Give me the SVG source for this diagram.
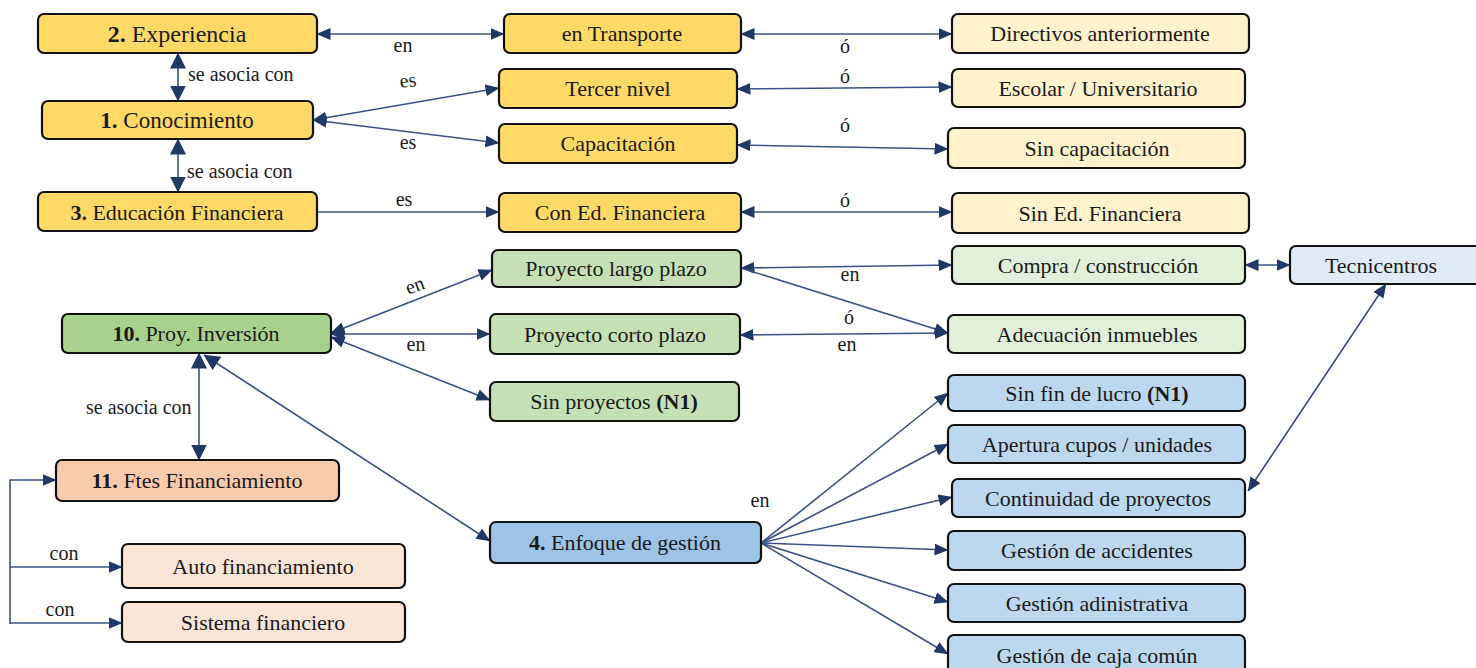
<svg xmlns="http://www.w3.org/2000/svg" width="1476" height="668" viewBox="0 0 1476 668">
  <defs>
    <marker id="arr" viewBox="0 0 14 12" refX="13.5" refY="6" markerWidth="14" markerHeight="12" markerUnits="userSpaceOnUse" orient="auto-start-reverse">
      <path d="M0,0 L14,6 L0,12 Z" fill="#1F3864" stroke="none"/>
    </marker>
    <marker id="arrL" viewBox="0 0 16 16" refX="15.5" refY="8" markerWidth="16" markerHeight="16" markerUnits="userSpaceOnUse" orient="auto-start-reverse">
      <path d="M0,0 L16,8 L0,16 Z" fill="#1F3864" stroke="none"/>
    </marker>
  </defs>

  <!-- connectors -->
  <g id="connectors">
    <g fill="none" stroke="#3A5283" stroke-width="1.6">
      <!-- experiencia / conocimiento / educacion -->
      <line x1="317" y1="34" x2="504" y2="34" marker-start="url(#arr)" marker-end="url(#arr)"/>
      <line x1="741" y1="34" x2="952" y2="34" marker-start="url(#arr)" marker-end="url(#arr)"/>
      <line x1="178" y1="53" x2="178" y2="101" marker-start="url(#arrL)" marker-end="url(#arrL)"/>
      <line x1="178" y1="139" x2="178" y2="192" marker-start="url(#arrL)" marker-end="url(#arrL)"/>
      <line x1="313" y1="120" x2="499" y2="88" marker-start="url(#arr)" marker-end="url(#arr)"/>
      <line x1="313" y1="120" x2="499" y2="143" marker-start="url(#arr)" marker-end="url(#arr)"/>
      <line x1="737" y1="89" x2="952" y2="87" marker-start="url(#arr)" marker-end="url(#arr)"/>
      <line x1="737" y1="145" x2="948" y2="149" marker-start="url(#arr)" marker-end="url(#arr)"/>
      <line x1="317" y1="212" x2="499" y2="212" marker-end="url(#arr)"/>
      <line x1="741" y1="212" x2="952" y2="212" marker-start="url(#arr)" marker-end="url(#arr)"/>

      <!-- proyectos de inversion -->
      <line x1="331" y1="333" x2="492" y2="270" marker-start="url(#arr)" marker-end="url(#arr)"/>
      <line x1="331" y1="334" x2="490" y2="334" marker-start="url(#arr)" marker-end="url(#arr)"/>
      <line x1="331" y1="337" x2="490" y2="400" marker-start="url(#arr)" marker-end="url(#arr)"/>
      <line x1="741" y1="268" x2="952" y2="265" marker-start="url(#arr)" marker-end="url(#arr)"/>
      <line x1="741" y1="268" x2="948" y2="333" marker-end="url(#arr)"/>
      <line x1="740" y1="335" x2="948" y2="333" marker-start="url(#arr)" marker-end="url(#arr)"/>
      <line x1="1245" y1="265" x2="1290" y2="265" marker-start="url(#arr)" marker-end="url(#arr)"/>
      <line x1="1248" y1="491" x2="1386" y2="284" marker-start="url(#arr)" marker-end="url(#arr)"/>

      <!-- inversion / financiamiento / enfoque -->
      <line x1="199" y1="353" x2="199" y2="460" marker-start="url(#arrL)" marker-end="url(#arrL)"/>
      <line x1="204" y1="355" x2="490" y2="541" marker-start="url(#arrL)" marker-end="url(#arr)"/>
      <path d="M10,624 V480 H56" marker-end="url(#arr)"/>
      <line x1="10" y1="567" x2="122" y2="567" marker-end="url(#arr)"/>
      <line x1="10" y1="623" x2="122" y2="623" marker-end="url(#arr)"/>

      <!-- enfoque de gestion fan-out -->
      <line x1="761" y1="543" x2="948" y2="393" marker-end="url(#arr)"/>
      <line x1="761" y1="543" x2="948" y2="444" marker-end="url(#arr)"/>
      <line x1="761" y1="543" x2="952" y2="497" marker-end="url(#arr)"/>
      <line x1="761" y1="543" x2="948" y2="550" marker-end="url(#arr)"/>
      <line x1="761" y1="543" x2="948" y2="602" marker-end="url(#arr)"/>
      <line x1="761" y1="543" x2="948" y2="654" marker-end="url(#arr)"/>
    </g>

    <!-- connector labels -->
    <g fill="#1a1a1a">
      <text x="403" y="52" font-size="20" font-family="Liberation Serif" text-anchor="middle">en</text>
      <text x="845" y="53" font-size="20" font-family="Liberation Serif" text-anchor="middle">&#243;</text>
      <text x="188" y="81" font-size="20" font-family="Liberation Serif">se asocia con</text>
      <text x="408" y="87" font-size="20" font-family="Liberation Serif" text-anchor="middle" transform="rotate(-8 408 82)">es</text>
      <text x="845" y="83" font-size="20" font-family="Liberation Serif" text-anchor="middle">&#243;</text>
      <text x="408" y="149" font-size="20" font-family="Liberation Serif" text-anchor="middle">es</text>
      <text x="845" y="132" font-size="20" font-family="Liberation Serif" text-anchor="middle">&#243;</text>
      <text x="187" y="178" font-size="20" font-family="Liberation Serif">se asocia con</text>
      <text x="404" y="206" font-size="20" font-family="Liberation Serif" text-anchor="middle">es</text>
      <text x="845" y="207" font-size="20" font-family="Liberation Serif" text-anchor="middle">&#243;</text>
      <text x="415" y="292" font-size="20" font-family="Liberation Serif" text-anchor="middle" transform="rotate(-20 415 286)">en</text>
      <text x="416" y="351" font-size="20" font-family="Liberation Serif" text-anchor="middle">en</text>
      <text x="850" y="281" font-size="20" font-family="Liberation Serif" text-anchor="middle">en</text>
      <text x="849" y="324" font-size="20" font-family="Liberation Serif" text-anchor="middle">&#243;</text>
      <text x="847" y="351" font-size="20" font-family="Liberation Serif" text-anchor="middle">en</text>
      <text x="86" y="414" font-size="20" font-family="Liberation Serif">se asocia con</text>
      <text x="760" y="507" font-size="20" font-family="Liberation Serif" text-anchor="middle">en</text>
      <text x="64" y="560" font-size="20" font-family="Liberation Serif" text-anchor="middle">con</text>
      <text x="60" y="616" font-size="20" font-family="Liberation Serif" text-anchor="middle">con</text>
    </g>
  </g>

  <!-- nodes -->
  <g id="nodes" stroke="#111" stroke-width="2.2">
    <g id="n-experiencia"><rect fill="#FFD966" x="38" y="14" width="279" height="39" rx="6"/><text x="177" y="42" font-size="24" font-family="Liberation Serif" text-anchor="middle" fill="#1a1a1a" stroke="none"><tspan font-weight="bold">2.</tspan> Experiencia</text></g>
    <g id="n-transporte"><rect fill="#FFD966" x="504" y="14" width="237" height="39" rx="6"/><text x="622" y="41" font-size="22" font-family="Liberation Serif" text-anchor="middle" fill="#1a1a1a" stroke="none">en Transporte</text></g>
    <g id="n-directivos"><rect fill="#FFF2CC" x="952" y="14" width="297" height="39" rx="6"/><text x="1100" y="41" font-size="22" font-family="Liberation Serif" text-anchor="middle" fill="#1a1a1a" stroke="none">Directivos anteriormente</text></g>

    <g id="n-conocimiento"><rect fill="#FFD966" x="42" y="101" width="271" height="38" rx="6"/><text x="177" y="128" font-size="23" font-family="Liberation Serif" text-anchor="middle" fill="#1a1a1a" stroke="none"><tspan font-weight="bold">1.</tspan> Conocimiento</text></g>
    <g id="n-tercer"><rect fill="#FFD966" x="499" y="69" width="238" height="39" rx="6"/><text x="618" y="96" font-size="22" font-family="Liberation Serif" text-anchor="middle" fill="#1a1a1a" stroke="none">Tercer nivel</text></g>
    <g id="n-escolar"><rect fill="#FFF2CC" x="952" y="69" width="293" height="38" rx="6"/><text x="1098" y="96" font-size="22" font-family="Liberation Serif" text-anchor="middle" fill="#1a1a1a" stroke="none">Escolar / Universitario</text></g>
    <g id="n-capacitacion"><rect fill="#FFD966" x="499" y="124" width="238" height="39" rx="6"/><text x="618" y="151" font-size="22" font-family="Liberation Serif" text-anchor="middle" fill="#1a1a1a" stroke="none">Capacitaci&#243;n</text></g>
    <g id="n-sincap"><rect fill="#FFF2CC" x="948" y="128" width="297" height="40" rx="6"/><text x="1097" y="156" font-size="22" font-family="Liberation Serif" text-anchor="middle" fill="#1a1a1a" stroke="none">Sin capacitaci&#243;n</text></g>

    <g id="n-educacion"><rect fill="#FFD966" x="38" y="192" width="279" height="39" rx="6"/><text x="177" y="220" font-size="22" font-family="Liberation Serif" text-anchor="middle" fill="#1a1a1a" stroke="none"><tspan font-weight="bold">3.</tspan> Educaci&#243;n Financiera</text></g>
    <g id="n-coned"><rect fill="#FFD966" x="499" y="193" width="242" height="39" rx="6"/><text x="620" y="220" font-size="22" font-family="Liberation Serif" text-anchor="middle" fill="#1a1a1a" stroke="none">Con Ed. Financiera</text></g>
    <g id="n-sined"><rect fill="#FFF2CC" x="952" y="193" width="297" height="40" rx="6"/><text x="1100" y="221" font-size="22" font-family="Liberation Serif" text-anchor="middle" fill="#1a1a1a" stroke="none">Sin Ed. Financiera</text></g>

    <g id="n-proyinv"><rect fill="#A9D18E" x="62" y="314" width="269" height="39" rx="6"/><text x="196" y="341" font-size="22" font-family="Liberation Serif" text-anchor="middle" fill="#1a1a1a" stroke="none"><tspan font-weight="bold">10.</tspan> Proy. Inversi&#243;n</text></g>
    <g id="n-largo"><rect fill="#C5E0B4" x="492" y="250" width="249" height="37" rx="6"/><text x="616" y="276" font-size="22" font-family="Liberation Serif" text-anchor="middle" fill="#1a1a1a" stroke="none">Proyecto largo  plazo</text></g>
    <g id="n-corto"><rect fill="#C5E0B4" x="490" y="314" width="250" height="40" rx="6"/><text x="615" y="342" font-size="22" font-family="Liberation Serif" text-anchor="middle" fill="#1a1a1a" stroke="none">Proyecto corto plazo</text></g>
    <g id="n-sinproy"><rect fill="#C5E0B4" x="490" y="382" width="249" height="39" rx="6"/><text x="614" y="409" font-size="22" font-family="Liberation Serif" text-anchor="middle" fill="#1a1a1a" stroke="none">Sin proyectos <tspan font-weight="bold">(N1)</tspan></text></g>
    <g id="n-compra"><rect fill="#E2F0D9" x="952" y="246" width="293" height="38" rx="6"/><text x="1098" y="273" font-size="22" font-family="Liberation Serif" text-anchor="middle" fill="#1a1a1a" stroke="none">Compra / construcci&#243;n</text></g>
    <g id="n-tecnicentros"><rect fill="#DEEBF7" x="1290" y="246" width="196" height="38" rx="6"/><text x="1381" y="273" font-size="22" font-family="Liberation Serif" text-anchor="middle" fill="#1a1a1a" stroke="none">Tecnicentros</text></g>
    <g id="n-adecuacion"><rect fill="#E2F0D9" x="948" y="315" width="297" height="38" rx="6"/><text x="1097" y="342" font-size="22" font-family="Liberation Serif" text-anchor="middle" fill="#1a1a1a" stroke="none">Adecuaci&#243;n inmuebles</text></g>

    <g id="n-sinfin"><rect fill="#BDD7EE" x="948" y="375" width="297" height="36" rx="6"/><text x="1097" y="401" font-size="22" font-family="Liberation Serif" text-anchor="middle" fill="#1a1a1a" stroke="none">Sin fin de lucro <tspan font-weight="bold">(N1)</tspan></text></g>
    <g id="n-apertura"><rect fill="#BDD7EE" x="948" y="425" width="297" height="38" rx="6"/><text x="1097" y="452" font-size="22" font-family="Liberation Serif" text-anchor="middle" fill="#1a1a1a" stroke="none">Apertura cupos / unidades</text></g>
    <g id="n-continuidad"><rect fill="#BDD7EE" x="952" y="479" width="293" height="38" rx="6"/><text x="1098" y="506" font-size="22" font-family="Liberation Serif" text-anchor="middle" fill="#1a1a1a" stroke="none">Continuidad de proyectos</text></g>
    <g id="n-accidentes"><rect fill="#BDD7EE" x="948" y="531" width="297" height="39" rx="6"/><text x="1097" y="558" font-size="22" font-family="Liberation Serif" text-anchor="middle" fill="#1a1a1a" stroke="none">Gesti&#243;n de accidentes</text></g>
    <g id="n-administrativa"><rect fill="#BDD7EE" x="948" y="584" width="297" height="38" rx="6"/><text x="1097" y="611" font-size="22" font-family="Liberation Serif" text-anchor="middle" fill="#1a1a1a" stroke="none">Gesti&#243;n adinistrativa</text></g>
    <g id="n-caja"><rect fill="#BDD7EE" x="948" y="635" width="297" height="42" rx="6"/><text x="1097" y="663" font-size="22" font-family="Liberation Serif" text-anchor="middle" fill="#1a1a1a" stroke="none">Gesti&#243;n de caja com&#250;n</text></g>

    <g id="n-enfoque"><rect fill="#9DC3E6" x="490" y="522" width="271" height="41" rx="6"/><text x="625" y="550" font-size="22" font-family="Liberation Serif" text-anchor="middle" fill="#1a1a1a" stroke="none"><tspan font-weight="bold">4.</tspan> Enfoque de gesti&#243;n</text></g>

    <g id="n-ftes"><rect fill="#F8CBAD" x="56" y="460" width="283" height="41" rx="6"/><text x="197" y="488" font-size="22" font-family="Liberation Serif" text-anchor="middle" fill="#1a1a1a" stroke="none"><tspan font-weight="bold">11.</tspan> Ftes Financiamiento</text></g>
    <g id="n-auto"><rect fill="#FBE5D6" x="122" y="544" width="283" height="44" rx="6"/><text x="263" y="574" font-size="22" font-family="Liberation Serif" text-anchor="middle" fill="#1a1a1a" stroke="none">Auto financiamiento</text></g>
    <g id="n-sistema"><rect fill="#FBE5D6" x="122" y="602" width="283" height="40" rx="6"/><text x="263" y="630" font-size="22" font-family="Liberation Serif" text-anchor="middle" fill="#1a1a1a" stroke="none">Sistema financiero</text></g>
  </g>
</svg>
